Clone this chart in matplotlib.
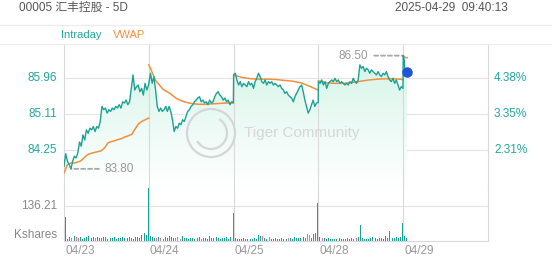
import numpy as np
import matplotlib
matplotlib.use("Agg")
import matplotlib.pyplot as plt
from matplotlib.patches import Rectangle, Circle, Arc
from matplotlib.transforms import IdentityTransform
from matplotlib.colors import LinearSegmentedColormap

plt.rcParams['font.family'] = ['Liberation Sans', 'Noto Sans CJK SC', 'DejaVu Sans']

# ---------------- data ----------------
title = "00005 汇丰控股 - 5D"
timestamp = "2025-04-29  09:40:13"
dates = ["04/23", "04/24", "04/25", "04/28", "04/29"]
price_ticks = [84.25, 85.11, 85.96]
pct_ticks = ["2.31%", "3.35%", "4.38%"]
vol_tick = 136.21
vol_tick_label = "136.21"
vol_unit = "Kshares"
day_minutes = 330

day1_price = [83.86, 84.16, 83.98, 83.90, 83.80, 83.98, 84.10, 84.06, 84.18, 84.44,
              84.34, 84.61, 84.49, 84.73, 84.65, 84.77, 84.73, 84.81, 84.69, 84.81,
              84.77, 84.93, 85.29, 85.21, 85.25, 85.13, 85.21, 85.17, 85.25, 85.21,
              85.29, 85.25, 85.33, 85.25, 85.40, 85.37, 85.44, 85.33, 85.40, 85.72,
              86.04, 85.68, 85.76, 85.80, 85.64, 85.72, 85.56, 85.84, 85.68, 85.80]
day2_price = [85.84, 86.08, 85.84, 86.00, 85.68, 85.29, 85.17, 85.25, 85.17, 85.21,
              85.29, 85.17, 85.29, 85.17, 84.97, 84.69, 84.81, 84.77, 84.89, 84.85,
              84.97, 84.93, 85.05, 85.17, 85.21, 85.29, 85.33, 85.40, 85.44, 85.49,
              85.52, 85.40, 85.44, 85.37, 85.40, 85.33, 85.44, 85.37, 85.40, 85.52,
              85.60, 85.64, 85.56, 85.52, 85.44, 85.49, 85.40, 85.44, 85.33, 85.40, 85.38]
day3_price = [86.04, 86.08, 85.92, 85.80, 85.88, 85.76, 85.84, 85.80, 85.76, 85.88,
              85.80, 85.84, 85.72, 85.88, 85.96, 86.08, 86.00, 85.88, 85.84, 85.92,
              85.80, 85.88, 85.84, 85.88, 85.80, 85.84, 85.80, 85.76, 85.80, 85.72,
              85.68, 85.60, 85.64, 85.56, 85.52, 85.49, 85.40, 85.52, 85.60, 85.68,
              85.76, 85.80, 85.64, 85.44, 85.29, 85.13, 85.21, 85.33, 85.44, 85.29,
              85.37, 85.38]
day4_price = [85.88, 85.84, 85.92, 85.80, 85.88, 85.72, 85.84, 85.88, 85.92, 85.88,
              85.96, 85.88, 85.92, 85.84, 85.88, 85.84, 85.80, 85.84, 85.80, 85.88,
              85.84, 85.96, 85.88, 85.84, 85.92, 86.28, 86.20, 86.24, 86.12, 86.20,
              86.16, 86.08, 86.16, 86.12, 86.08, 86.04, 86.12, 86.04, 86.00, 86.08,
              86.04, 86.12, 86.00, 85.92, 85.88, 85.96, 85.84, 85.92, 85.80, 85.68,
              85.76, 85.72]
day5_minutes = [0, 4, 6, 15]
day5_price = [86.50, 86.40, 86.20, 86.10]

day1_vwap = [83.70, 83.90, 83.94, 83.94, 83.96, 83.99, 84.07, 84.14, 84.17, 84.19,
             84.21, 84.23, 84.30, 84.42, 84.45, 84.47, 84.50, 84.52, 84.56, 84.59,
             84.62, 84.75, 84.87, 84.93, 84.97, 85.01]
day2_vwap = [86.28, 85.90, 85.70, 85.60, 85.47, 85.40, 85.36, 85.34, 85.34, 85.35,
             85.36, 85.37, 85.37]
day3_vwap = [86.04, 85.98, 85.95, 85.94, 85.94, 85.93, 85.91, 85.89, 85.85, 85.77, 85.68]
day4_vwap = [85.90, 85.85, 85.84, 85.84, 85.86, 85.89, 85.92, 85.94, 85.95, 85.95, 85.93]
day5_vwap = [86.50, 86.48, 86.46, 86.45]

vol_slots = 40
day1_vol = [92, 6, 14, 10, 16, 12, 8, 14, 6, 10, 12, 18, 8, 14, 10, 12, 8, 10, 14, 12,
            6, 10, 8, 12, 6, 10, 8, 12, 10, 8, 14, 10, 6, 12, 14, 10, 22, 30, 20, 205]
day1_dir = "uuududduuu" "uuuuduuuuu" "uuuuuuuuuu" "uuuuuuuuuu"
day2_vol = [16, 12, 10, 8, 14, 10, 6, 12, 8, 18, 14, 10, 8, 12, 6, 16, 8, 10, 6, 8,
            10, 6, 8, 12, 6, 8, 10, 6, 18, 8, 10, 14, 8, 6, 10, 8, 12, 6, 14, 108]
day2_dir = "uuududduuu" "uuddduuuuu" "uuuuduuuuu" "uuuuuuuuuu"
day3_vol = [10, 6, 4, 6, 8, 4, 6, 5, 6, 8, 6, 22, 18, 16, 8, 6, 12, 4, 6, 8,
            6, 4, 8, 6, 5, 10, 8, 6, 12, 8, 10, 8, 12, 10, 25, 20, 10, 24, 30, 147]
day3_dir = "uuuuuuuuuu" "uuuduuduuu" "uuuuuduuuu" "uuuudduuuu"
day4_vol = [14, 10, 8, 6, 8, 5, 6, 4, 6, 8, 6, 4, 6, 8, 6, 10, 6, 8, 12, 61,
            8, 6, 4, 6, 10, 15, 8, 6, 10, 8, 6, 18, 10, 37, 8, 10, 12, 8, 14, 68]
day4_dir = "uduuuuuuuu" "uuuuuuuduu" "uuuuuuuuuu" "uuuuuuuuuu"
day5_vol = [18, 10]
day5_dir = "uu"

# ---------------- styling ----------------
W, H = 552, 265
TEAL = "#1ba293"
TEAL_TXT = "#22a79b"
ORANGE = "#f0903c"
PINK = "#e8738f"
GRID = "#e4e4e4"
FRAME = "#d9d9d9"

fig = plt.figure(figsize=(W / 100, H / 100), dpi=100)
fig.patch.set_facecolor("white")


def rect(x0, y0, x1, y1):
    return [x0 / W, 1 - y1 / H, (x1 - x0) / W, (y1 - y0) / H]


axp = fig.add_axes(rect(64, 45, 488, 186))
axv = fig.add_axes(rect(64, 186, 488, 240.5))

price_days = [day1_price, day2_price, day3_price, day4_price]
vwap_days = [day1_vwap, day2_vwap, day3_vwap, day4_vwap]
xs, ys = [], []
for d, p in enumerate(price_days):
    xs.append(d * day_minutes + np.linspace(0, day_minutes - 1, len(p)))
    ys.append(np.asarray(p))
xs.append(4 * day_minutes + np.asarray(day5_minutes, float))
ys.append(np.asarray(day5_price))
x = np.concatenate(xs)
y = np.concatenate(ys)

xmax = 5 * day_minutes
ylo, yhi = 83.391, 86.754

# gradient fill under the intraday line
cmap = LinearSegmentedColormap.from_list("mint", ["#ffffff", "#ebfaf4", "#d3f5e8"])
grad = np.linspace(0, 1, 256).reshape(-1, 1)
im = axp.imshow(grad, extent=[0, x[-1], ylo, y.max()], origin="lower",
                aspect="auto", cmap=cmap, zorder=1)
poly = axp.fill_between(x, y, ylo, facecolor="none", edgecolor="none")
im.set_clip_path(poly.get_paths()[0], transform=axp.transData)

axp.plot(x, y, color=TEAL, lw=1.0, zorder=4, solid_joinstyle="round")
for d, v in enumerate(vwap_days):
    vx = d * day_minutes + np.linspace(0, day_minutes - 1, len(v))
    axp.plot(vx, v, color=ORANGE, lw=1.1, zorder=3)
axp.plot(4 * day_minutes + np.asarray(day5_minutes, float), day5_vwap,
         color=ORANGE, lw=1.1, zorder=3)
axp.plot(x[-1], y[-1], "o", color="#2152dc", ms=6.5, zorder=5)

# high / low markers
ih = int(np.argmax(y))
il = int(np.argmin(y))
dash = dict(arrowstyle="-", linestyle=(0, (2.2, 1.6)), color="#a8a8a8", lw=1.3,
            shrinkA=0, shrinkB=0)
axp.annotate("", xy=(x[ih], y[ih]), xytext=(-29, 0), textcoords="offset pixels",
             arrowprops=dash, zorder=3)
axp.annotate(f"{y[ih]:.2f}", xy=(x[ih], y[ih]), xytext=(-35, 0),
             textcoords="offset pixels", ha="right", va="center",
             fontsize=8.5, color="#999999")
axp.annotate("", xy=(x[il], y[il]), xytext=(28, 0), textcoords="offset pixels",
             arrowprops=dash, zorder=3)
axp.annotate(f"{y[il]:.2f}", xy=(x[il], y[il]), xytext=(34, 0),
             textcoords="offset pixels", ha="left", va="center",
             fontsize=8.5, color="#999999")

axp.set_xlim(0, xmax)
axp.set_ylim(ylo, yhi)

# volume bars (thin 1-px sticks)
vol_days = [day1_vol, day2_vol, day3_vol, day4_vol, day5_vol]
dir_days = [day1_dir, day2_dir, day3_dir, day4_dir, day5_dir]
slot = day_minutes / vol_slots
for d, (vv, dd) in enumerate(zip(vol_days, dir_days)):
    bx = d * day_minutes + (np.arange(len(vv)) + 0.5) * slot
    cols = [TEAL if c == "u" else PINK for c in dd[:len(vv)]]
    axv.vlines(bx, 0, vv, colors=cols, linewidth=0.72, zorder=3, antialiased=False)
axv.set_xlim(0, xmax)
axv.set_ylim(0, 213)

# grid / frame
for ax in (axp, axv):
    ax.set_xticks([])
    ax.set_yticks([])
    ax.patch.set_alpha(0)
    for s in ax.spines.values():
        s.set_color(FRAME)
        s.set_linewidth(0.8)
    for d in range(1, 5):
        ax.axvline(d * day_minutes, color=FRAME, lw=0.8, zorder=2)
axp.spines["bottom"].set_visible(False)
axp.spines["top"].set_visible(False)
axv.spines["top"].set_visible(False)

for v, lab in zip(price_ticks, pct_ticks):
    axp.axhline(v, color=GRID, lw=0.8, zorder=0.5)
    axp.text(-7 / 424, v, f"{v:.2f}", transform=axp.get_yaxis_transform(),
             ha="right", va="center", fontsize=8.5, color=TEAL_TXT)
    axp.text(1 + 6 / 424, v, lab, transform=axp.get_yaxis_transform(),
             ha="left", va="center", fontsize=8.5, color=TEAL_TXT)

axv.axhline(vol_tick, color=GRID, lw=0.8, zorder=1)
axv.text(-7 / 424, vol_tick, vol_tick_label, transform=axv.get_yaxis_transform(),
         ha="right", va="center", fontsize=8.5, color="#888888")
axv.text(-7 / 424, 5.5 / 54.5, vol_unit, transform=axv.transAxes,
         ha="right", va="center", fontsize=8.5, color="#888888")
for d, lab in enumerate(dates):
    axv.text(d * day_minutes + 4, -10.5 / 54.5, lab, transform=axv.get_xaxis_transform(),
             ha="left", va="center", fontsize=8.5, color="#999999")

# header & legend strip
fig.add_artist(Rectangle((-0.01, 1 - 44 / H), 1.02, 19 / H, transform=fig.transFigure,
                         facecolor="white", edgecolor="#ececec", lw=0.8))
fig.text(19 / W, 1 - 8 / H, title, ha="left", va="center", fontsize=8.5, color="#555555")
fig.text(508 / W, 1 - 8 / H, timestamp, ha="right", va="center", fontsize=8.5, color="#555555")
fig.text(61 / W, 1 - 34.5 / H, "Intraday", ha="left", va="center", fontsize=8, color=TEAL_TXT)
fig.text(113 / W, 1 - 34.5 / H, "VWAP", ha="left", va="center", fontsize=8, color=ORANGE)

# watermark
wm = "#d6d6d6"
cx, cy = 211, H - 133
axp.add_artist(Circle((cx, cy), 24, transform=IdentityTransform(), fill=False,
                      ec=wm, lw=1.6, zorder=2.5, clip_on=False))
axp.add_artist(Arc((cx, cy), 32, 32, theta1=-150, theta2=60, transform=IdentityTransform(),
                   ec=wm, lw=1.6, zorder=2.5, clip_on=False))
fig.text(244 / W, 1 - 133 / H, "Tiger Community", ha="left", va="center",
         fontsize=11, color=wm, zorder=2.5)

fig.savefig("out.png", dpi=100)
